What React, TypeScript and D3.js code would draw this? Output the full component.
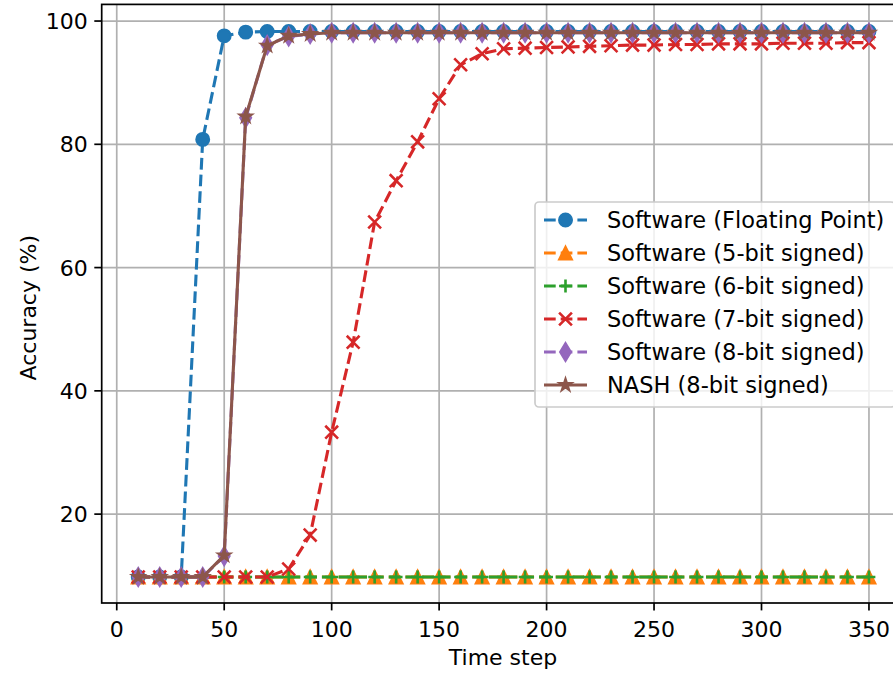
import React from 'react'
import * as d3 from 'd3'

const timeSteps = [
  10, 20, 30, 40, 50, 60, 70, 80, 90, 100, 110, 120, 130, 140, 150, 160, 170, 180, 190, 200, 210,
  220, 230, 240, 250, 260, 270, 280, 290, 300, 310, 320, 330, 340, 350,
]

const floatingPoint = [
  9.8, 9.8, 9.8, 80.8, 97.6, 98.2, 98.3, 98.3, 98.3, 98.3, 98.3, 98.3, 98.3, 98.3, 98.3, 98.3, 98.3,
  98.3, 98.3, 98.3, 98.3, 98.3, 98.3, 98.3, 98.3, 98.3, 98.3, 98.3, 98.3, 98.3, 98.3, 98.3, 98.3,
  98.3, 98.3,
]

const fiveBit = [
  9.8, 9.8, 9.8, 9.8, 9.8, 9.8, 9.8, 9.8, 9.8, 9.8, 9.8, 9.8, 9.8, 9.8, 9.8, 9.8, 9.8, 9.8, 9.8,
  9.8, 9.8, 9.8, 9.8, 9.8, 9.8, 9.8, 9.8, 9.8, 9.8, 9.8, 9.8, 9.8, 9.8, 9.8, 9.8,
]

const sixBit = [
  9.8, 9.8, 9.8, 9.8, 9.8, 9.8, 9.8, 9.8, 9.8, 9.8, 9.8, 9.8, 9.8, 9.8, 9.8, 9.8, 9.8, 9.8, 9.8,
  9.8, 9.8, 9.8, 9.8, 9.8, 9.8, 9.8, 9.8, 9.8, 9.8, 9.8, 9.8, 9.8, 9.8, 9.8, 9.8,
]

const sevenBit = [
  9.8, 9.8, 9.8, 9.8, 9.8, 9.8, 9.8, 11.1, 16.6, 33.3, 47.9, 67.4, 74.1, 80.4, 87.4, 92.9, 94.7,
  95.5, 95.6, 95.7, 95.8, 95.9, 96.0, 96.1, 96.1, 96.2, 96.2, 96.3, 96.3, 96.3, 96.4, 96.4, 96.4,
  96.5, 96.5,
]

const eightBit = [
  9.8, 9.8, 9.8, 9.8, 13.2, 84.3, 96.1, 97.5, 97.9, 98.1, 98.1, 98.1, 98.1, 98.1, 98.1, 98.1, 98.1,
  98.1, 98.1, 98.1, 98.1, 98.1, 98.1, 98.1, 98.1, 98.1, 98.1, 98.1, 98.1, 98.1, 98.1, 98.1, 98.1,
  98.1, 98.1,
]

const nash = [
  9.8, 9.8, 9.8, 9.8, 13.3, 84.5, 96.0, 97.6, 97.9, 98.1, 98.1, 98.1, 98.1, 98.1, 98.1, 98.1, 98.1,
  98.1, 98.1, 98.1, 98.1, 98.1, 98.1, 98.1, 98.1, 98.1, 98.1, 98.1, 98.1, 98.1, 98.1, 98.1, 98.1,
  98.1, 98.1,
]

const seriesNames = [
  'Software (Floating Point)',
  'Software (5-bit signed)',
  'Software (6-bit signed)',
  'Software (7-bit signed)',
  'Software (8-bit signed)',
  'NASH (8-bit signed)',
]
const seriesValues = [floatingPoint, fiveBit, sixBit, sevenBit, eightBit, nash]
const seriesColors = ['#1f77b4', '#ff7f0e', '#2ca02c', '#d62728', '#9467bd', '#8c564b']
const seriesMarkers = ['circle', 'triangle', 'plus', 'x', 'thinDiamond', 'star']
const seriesDashed = [true, true, true, true, true, false]

const xTicks = [0, 50, 100, 150, 200, 250, 300, 350]
const yTicks = [20, 40, 60, 80, 100]

const width = 893
const height = 674
const plot = { left: 101.7, right: 905.5, top: 4.4, bottom: 603 }
const fontFamily = '"DejaVu Sans", sans-serif'
const fontSize = 22
const legendFontSize = 22.5
const lineWidth = 3.1
const markerSize = 12.8
const dash = '11.7,5'

const legend = { left: 535, top: 202, right: 895, bottom: 407, rowY0: 220, rowGap: 33 }

function markerPath(kind: string, s: number): string {
  const h = s / 2
  if (kind === 'circle') {
    return `M${-h},0A${h},${h} 0 1,0 ${h},0A${h},${h} 0 1,0 ${-h},0Z`
  }
  if (kind === 'triangle') {
    return `M0,${-h}L${-h},${h}L${h},${h}Z`
  }
  if (kind === 'plus') {
    return `M${-h},0L${h},0M0,${-h}L0,${h}`
  }
  if (kind === 'x') {
    return `M${-h},${-h}L${h},${h}M${-h},${h}L${h},${-h}`
  }
  if (kind === 'thinDiamond') {
    const dy = h * Math.SQRT2
    const dx = dy * 0.6
    return `M0,${-dy}L${dx},0L0,${dy}L${-dx},0Z`
  }
  // star
  const pts: string[] = []
  const inner = h * 0.381966
  for (let i = 0; i < 10; i++) {
    const r = i % 2 === 0 ? h : inner
    const a = (i * Math.PI) / 5 - Math.PI / 2
    pts.push(`${r * Math.cos(a)},${r * Math.sin(a)}`)
  }
  return 'M' + pts.join('L') + 'Z'
}

function Marker({ kind, color, x, y }: { kind: string; color: string; x: number; y: number }) {
  const stroked = kind === 'plus' || kind === 'x'
  return (
    <path
      d={markerPath(kind, markerSize)}
      transform={`translate(${x},${y})`}
      fill={stroked ? 'none' : color}
      stroke={color}
      strokeWidth={stroked ? 2.6 : 2.1}
      strokeLinejoin="miter"
    />
  )
}

export default function App() {
  const x = d3.scaleLinear().domain([-7, 367]).range([plot.left, plot.right])
  const y = d3.scaleLinear().domain([5.58, 102.7]).range([plot.bottom, plot.top])

  const line = d3
    .line<number>()
    .x((_, i) => x(timeSteps[i]))
    .y((d) => y(d))

  return (
    <svg
      width={width}
      height={height}
      style={{ position: 'absolute', left: 0, top: 0, background: '#fff' }}
      fontFamily={fontFamily}
    >
      <rect x={0} y={0} width={width} height={height} fill="#fff" />
      {/* grid */}
      {xTicks.map((t) => (
        <line
          key={'gx' + t}
          x1={x(t)}
          x2={x(t)}
          y1={plot.top}
          y2={plot.bottom}
          stroke="#b0b0b0"
          strokeWidth={1.7}
        />
      ))}
      {yTicks.map((t) => (
        <line
          key={'gy' + t}
          x1={plot.left}
          x2={plot.right}
          y1={y(t)}
          y2={y(t)}
          stroke="#b0b0b0"
          strokeWidth={1.7}
        />
      ))}

      {/* series */}
      {seriesValues.map((values, si) => (
        <g key={seriesNames[si]}>
          <path
            d={line(values) || ''}
            fill="none"
            stroke={seriesColors[si]}
            strokeWidth={lineWidth}
            strokeDasharray={seriesDashed[si] ? dash : undefined}
            strokeLinejoin="round"
          />
          {values.map((v, i) => (
            <Marker
              key={i}
              kind={seriesMarkers[si]}
              color={seriesColors[si]}
              x={x(timeSteps[i])}
              y={y(v)}
            />
          ))}
        </g>
      ))}

      {/* spines */}
      <rect
        x={plot.left}
        y={plot.top}
        width={plot.right - plot.left}
        height={plot.bottom - plot.top}
        fill="none"
        stroke="#000"
        strokeWidth={1.7}
      />

      {/* x axis */}
      {xTicks.map((t) => (
        <g key={'xt' + t}>
          <line x1={x(t)} x2={x(t)} y1={plot.bottom} y2={plot.bottom + 7.4} stroke="#000" strokeWidth={1.7} />
          <text x={x(t)} y={plot.bottom + 34} textAnchor="middle" fontSize={fontSize} fill="#000">
            {t}
          </text>
        </g>
      ))}
      <text x={503} y={665} textAnchor="middle" fontSize={fontSize} fill="#000">
        Time step
      </text>

      {/* y axis */}
      {yTicks.map((t) => (
        <g key={'yt' + t}>
          <line x1={plot.left - 7.4} x2={plot.left} y1={y(t)} y2={y(t)} stroke="#000" strokeWidth={1.7} />
          <text x={plot.left - 14} y={y(t)} dy="0.36em" textAnchor="end" fontSize={fontSize} fill="#000">
            {t}
          </text>
        </g>
      ))}
      <text
        transform={`translate(36,${(plot.top + plot.bottom) / 2 + 4}) rotate(-90)`}
        textAnchor="middle"
        fontSize={fontSize}
        fill="#000"
      >
        Accuracy (%)
      </text>

      {/* legend */}
      <rect
        x={legend.left}
        y={legend.top}
        width={legend.right - legend.left}
        height={legend.bottom - legend.top}
        rx={4}
        fill="#fff"
        fillOpacity={0.8}
        stroke="#cccccc"
        strokeWidth={1.7}
      />
      {seriesNames.map((name, i) => {
        const ry = legend.rowY0 + i * legend.rowGap
        return (
          <g key={'lg' + name}>
            <line
              x1={544}
              x2={587}
              y1={ry}
              y2={ry}
              stroke={seriesColors[i]}
              strokeWidth={lineWidth}
              strokeDasharray={seriesDashed[i] ? dash : undefined}
            />
            <Marker kind={seriesMarkers[i]} color={seriesColors[i]} x={565.5} y={ry} />
            <text x={607} y={ry} dy="0.36em" fontSize={legendFontSize} fill="#000">
              {name}
            </text>
          </g>
        )
      })}
    </svg>
  )
}
